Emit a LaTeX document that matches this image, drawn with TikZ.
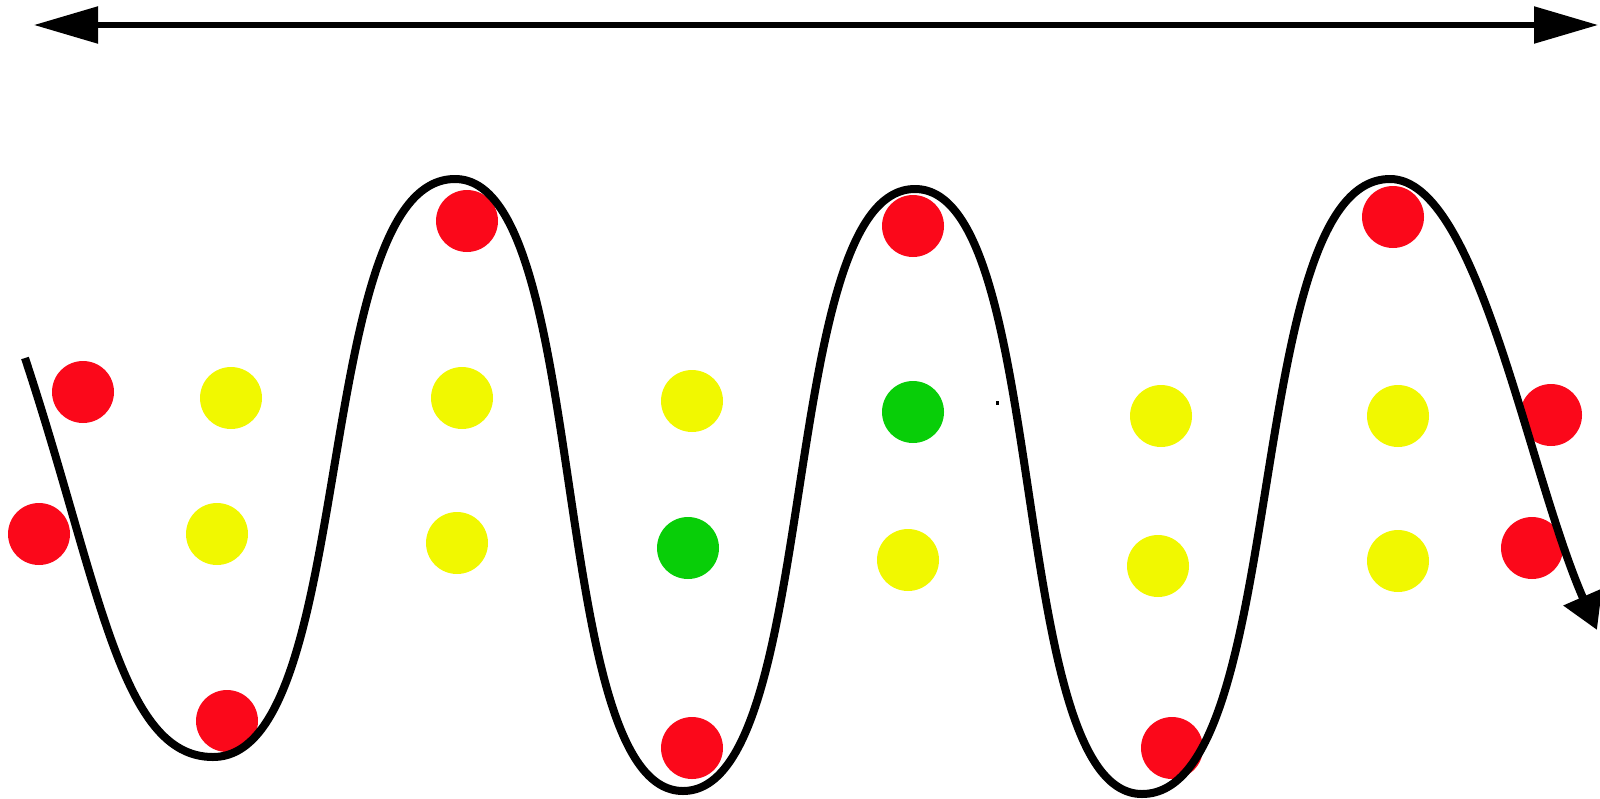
\documentclass[tikz,border=0pt]{standalone}
\usetikzlibrary{arrows.meta}
\definecolor{dotred}{RGB}{251,8,26}
\definecolor{dotyellow}{RGB}{241,248,0}
\definecolor{dotgreen}{RGB}{8,206,8}
\begin{document}
\begin{tikzpicture}[x=0.5pt,y=-0.5pt,
  dot/.style={circle,inner sep=0pt,minimum size=31pt},
  reddot/.style={dot,fill=dotred},
  yellowdot/.style={dot,fill=dotyellow},
  greendot/.style={dot,fill=dotgreen},
  wave/.style={line width=4pt,-{Triangle[length=18pt,width=20pt]}},
  span/.style={line width=2.7pt,{Triangle[length=32pt,width=18pt]}-{Triangle[length=32pt,width=18pt]}}]
\useasboundingbox (0,0) rectangle (1600,798);

% double-headed span arrow along the top
\coordinate (spanL) at (34,25);
\coordinate (spanR) at (1598,25);
\draw[span] (spanL) -- (spanR);

% red dots
\node[reddot] (r1)  at (83,392) {};
\node[reddot] (r2)  at (39,534) {};
\node[reddot] (r3)  at (227,721) {};
\node[reddot] (r4)  at (467,221) {};
\node[reddot] (r5)  at (692,748) {};
\node[reddot] (r6)  at (913,226) {};
\node[reddot] (r7)  at (1172,748) {};
\node[reddot] (r8)  at (1393,217) {};
\node[reddot] (r9)  at (1551,415) {};
\node[reddot] (r10) at (1532,548) {};

% yellow dots
\node[yellowdot] (y1)  at (231,398) {};
\node[yellowdot] (y2)  at (217,534) {};
\node[yellowdot] (y3)  at (462,398) {};
\node[yellowdot] (y4)  at (457,543) {};
\node[yellowdot] (y5)  at (692,401) {};
\node[yellowdot] (y6)  at (908,560) {};
\node[yellowdot] (y7)  at (1161,416) {};
\node[yellowdot] (y8)  at (1158,566) {};
\node[yellowdot] (y9)  at (1398,416) {};
\node[yellowdot] (y10) at (1398,561) {};

% green dots
\node[greendot] (g1) at (913,412) {};
\node[greendot] (g2) at (688,548) {};

% small speck
\fill (995.5,401) rectangle (998.5,405);

% turning points of the wave
\coordinate (w0) at (25,358);
\coordinate (b1) at (213,757);
\coordinate (t1) at (455,179);
\coordinate (b2) at (683,791);
\coordinate (t2) at (915,189);
\coordinate (b3) at (1142,794);
\coordinate (t3) at (1390,179);
\coordinate (wend) at (1597,630);

\draw[wave] (w0)
  .. controls (100,585) and (120,757) .. (b1)
  .. controls (358,757) and (310,179) .. (t1)
  .. controls (592,179) and (546,791) .. (b2)
  .. controls (822,791) and (776,189) .. (t2)
  .. controls (1051,189) and (1006,794) .. (b3)
  .. controls (1291,794) and (1241,179) .. (t3)
  .. controls (1478,179) and (1527,470) .. (wend);
\end{tikzpicture}
\end{document}
